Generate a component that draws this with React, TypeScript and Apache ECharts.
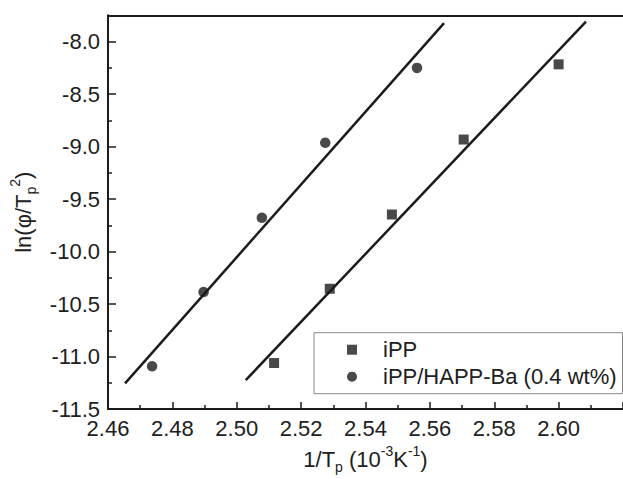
import React, { useEffect, useRef } from "react";
import * as echarts from "echarts";

// ---- data ----
const seriesNames = ["iPP", "iPP/HAPP-Ba (0.4 wt%)"];

const ippX = [2.5116, 2.5289, 2.5482, 2.5705, 2.6];
const ippY = [-11.061, -10.354, -9.647, -8.933, -8.217];

const bapX = [2.4737, 2.4897, 2.5078, 2.5275, 2.556];
const bapY = [-11.092, -10.385, -9.678, -8.964, -8.251];

// linear fit lines (end points)
const ippFitX = [2.5028, 2.6085];
const ippFitY = [-11.224, -7.81];
const bapFitX = [2.4653, 2.5644];
const bapFitY = [-11.255, -7.824];

const xMin = 2.46;
const xMax = 2.62;
const xInterval = 0.02;
const yMin = -11.5;
const yMax = -7.75;
const yInterval = 0.5;

const FONT = "'Liberation Sans', Arial, Helvetica, sans-serif";
const INK = "#1c1c1c";
const TXT = "#202020";

const zip = (xs: number[], ys: number[]) => xs.map((x, i) => [x, ys[i]]);

const richTitle = {
  a: { fontSize: 22, fontFamily: FONT, color: TXT, lineHeight: 30 },
  sub: { fontSize: 14, fontFamily: FONT, color: TXT, verticalAlign: "bottom", lineHeight: 13 },
  sup: { fontSize: 14, fontFamily: FONT, color: TXT, verticalAlign: "top", lineHeight: 13 },
};

export default function App() {
  const ref = useRef<HTMLDivElement>(null);

  useEffect(() => {
    if (!ref.current) return;
    const chart = echarts.init(ref.current, null, { renderer: "svg" });

    const axisLine = { show: true, lineStyle: { color: INK, width: 2 } };

    const option: any = {
      animation: false,
      backgroundColor: "#fff",
      textStyle: { fontFamily: FONT },
      grid: { left: 100, top: 15.3, width: (xMax - xMin) * 3555, height: 398 },
      legend: {
        orient: "vertical",
        left: 314,
        top: 332.7,
        padding: [5, 6, 5, 33],
        itemGap: 3,
        itemWidth: 10,
        itemHeight: 10,
        borderColor: "#8a8a8a",
        borderWidth: 1,
        backgroundColor: "#fff",
        textStyle: {
          fontFamily: FONT,
          fontSize: 22,
          color: TXT,
          lineHeight: 24,
          padding: [0, 0, 0, 21],
        },
        data: [
          { name: seriesNames[0], icon: "rect" },
          { name: seriesNames[1], icon: "circle" },
        ],
      },
      xAxis: [
        {
          type: "value",
          min: xMin,
          max: xMax,
          interval: xInterval,
          position: "bottom",
          axisLine,
          axisTick: { show: true, inside: true, length: 7, lineStyle: { color: INK, width: 1.5 } },
          minorTick: { show: true, splitNumber: 2, length: 4, lineStyle: { color: INK, width: 1.5 } },
          splitLine: { show: false },
          axisLabel: {
            showMaxLabel: false,
            margin: 8,
            fontSize: 22,
            color: TXT,
            fontFamily: FONT,
            formatter: (v: number) => v.toFixed(2),
          },
          name: "{a|1/T}{sub|p}{a| (10}{sup|-3}{a|K}{sup|-1}{a|)}",
          nameLocation: "middle",
          nameGap: 28,
          nameTextStyle: { fontFamily: FONT, color: TXT, rich: richTitle },
        },
        {
          type: "value",
          min: xMin,
          max: xMax,
          position: "top",
          axisLine,
          axisTick: { show: false },
          axisLabel: { show: false },
          splitLine: { show: false },
        },
      ],
      yAxis: {
        type: "value",
        min: yMin,
        max: yMax,
        interval: yInterval,
        axisLine,
        axisTick: { show: true, inside: true, length: 8, lineStyle: { color: INK, width: 1.5 } },
        minorTick: { show: true, splitNumber: 2, length: 4, lineStyle: { color: INK, width: 1.5 } },
        splitLine: { show: false },
        axisLabel: {
          showMaxLabel: false,
          margin: 8,
          fontSize: 22,
          color: TXT,
          fontFamily: FONT,
          formatter: (v: number) => v.toFixed(1),
        },
        name: "{a|ln(φ/T}{sub|p}{sup|2}{a|)}",
        nameLocation: "middle",
        nameGap: 70,
        nameTextStyle: { fontFamily: FONT, color: TXT, rich: richTitle },
      },
      series: [
        {
          name: seriesNames[0],
          type: "scatter",
          symbol: "rect",
          symbolSize: 10,
          itemStyle: { color: INK },
          data: zip(ippX, ippY),
          z: 3,
        },
        {
          name: seriesNames[1],
          type: "scatter",
          symbol: "circle",
          symbolSize: 10.5,
          itemStyle: { color: INK },
          data: zip(bapX, bapY),
          z: 3,
        },
        {
          name: "iPP fit",
          type: "line",
          showSymbol: false,
          symbol: "none",
          lineStyle: { color: INK, width: 2.5 },
          data: zip(ippFitX, ippFitY),
          z: 2,
        },
        {
          name: "iPP/HAPP-Ba fit",
          type: "line",
          showSymbol: false,
          symbol: "none",
          lineStyle: { color: INK, width: 2.5 },
          data: zip(bapFitX, bapFitY),
          z: 2,
        },
      ],
    };

    chart.setOption(option);
    return () => chart.dispose();
  }, []);

  return (
    <div
      ref={ref}
      style={{ position: "absolute", left: 0, top: 0, width: 623, height: 479, background: "#fff" }}
    />
  );
}
